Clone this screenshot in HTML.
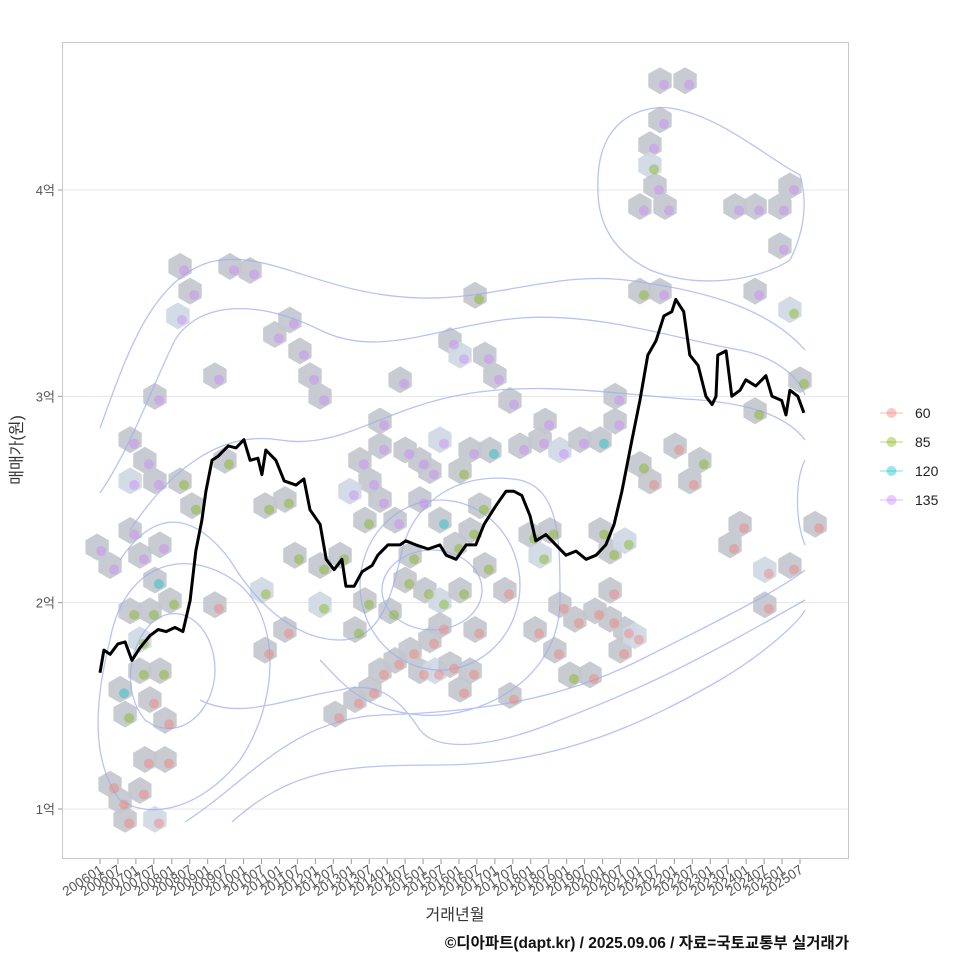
<!DOCTYPE html>
<html><head><meta charset="utf-8"><style>
body{margin:0;background:#fff;}
svg{display:block;font-family:"Liberation Sans","Noto Sans CJK KR",sans-serif;}
</style></head><body>
<svg id="chart" width="960" height="960" viewBox="0 0 960 960">
<rect x="0" y="0" width="960" height="960" fill="#fff"/>
<g id="grid"></g>
<g id="hexes"></g>
<g id="contours" fill="none" stroke="#9fb0ee" stroke-width="1.3" opacity="0.75">
<path d="M100,428 C125,360 150,280 210,262 C270,248 320,295 420,298 C500,300 560,268 640,282 C710,292 770,310 805,350"/>
<path d="M100,493 C130,450 155,380 175,340 C200,300 260,300 320,330 C380,360 440,325 520,318 C600,312 680,340 740,350 C780,358 800,380 805,395"/>
<path d="M130,530 C170,470 220,430 280,440 C340,450 380,410 460,395 C540,380 620,395 700,400 C760,405 790,420 805,440"/>
<path d="M805,460 C795,480 795,520 805,545"/>
<path d="M185,822 C250,780 290,720 380,715 C480,712 560,700 640,660 C720,620 780,590 805,570"/>
<path d="M232,822 C290,770 340,765 440,765 C560,765 650,720 720,680 C770,650 800,620 805,610"/>
<path d="M200,700 C240,720 280,700 340,690 C380,680 400,700 420,730 C440,755 500,745 560,720 C640,690 700,660 805,600"/>
<path d="M120,560 C160,500 200,520 230,560 C260,610 300,640 340,640 C380,640 390,600 400,560 C410,500 460,470 520,480 C560,490 560,540 560,600 C560,680 480,720 420,715 C360,710 340,680 320,660"/>
<ellipse cx="432" cy="590" rx="50" ry="40"/>
<ellipse cx="440" cy="585" rx="80" ry="85"/>
<path d="M120,800 C90,760 95,700 110,640 C125,560 190,545 240,585 C280,620 280,700 240,760 C200,810 150,820 120,800 Z"/>
<path d="M145,720 C120,690 130,640 155,620 C185,600 215,630 215,670 C215,710 180,745 145,720 Z"/>
<path d="M598,190 C595,120 640,105 670,108 C720,115 770,160 800,175 C810,210 800,240 790,260 C760,280 700,290 650,270 C610,250 598,220 598,190 Z"/>
</g>
<g id="points"></g>
<g id="line"></g>
<rect x="62.5" y="42.5" width="786" height="816" fill="none" stroke="#c8c8c8" stroke-width="1"/>
<g id="axes"></g>
<text x="455" y="920" font-size="16" text-anchor="middle" fill="#333">거래년월</text>
<text x="0" y="0" font-size="16" text-anchor="middle" fill="#333" transform="translate(22,450) rotate(-90)">매매가(원)</text>
<text x="849" y="948" font-size="15.5" font-weight="bold" text-anchor="end" fill="#111">©디아파트(dapt.kr) / 2025.09.06 / 자료=국토교통부 실거래가</text>
<g id="legend"></g>
</svg>
<script>
const lineYear=[2006.00,2006.11,2006.28,2006.50,2006.70,2006.89,2007.11,2007.39,2007.62,2007.84,2008.09,2008.31,2008.51,2008.67,2008.84,2008.95,2009.12,2009.29,2009.57,2009.79,2010.01,2010.18,2010.40,2010.51,2010.62,2010.90,2011.13,2011.46,2011.68,2011.85,2012.13,2012.30,2012.52,2012.74,2012.85,2013.08,2013.30,2013.58,2013.74,2014.02,2014.36,2014.52,2014.80,2015.14,2015.47,2015.64,2015.92,2016.20,2016.47,2016.70,2017.03,2017.31,2017.53,2017.75,2017.98,2018.14,2018.42,2018.70,2018.98,2019.26,2019.54,2019.82,2020.09,2020.32,2020.54,2020.82,2021.04,2021.26,2021.49,2021.71,2021.93,2022.04,2022.26,2022.43,2022.66,2022.88,2023.05,2023.16,2023.21,2023.44,2023.60,2023.83,2023.99,2024.27,2024.55,2024.72,2024.99,2025.11,2025.22,2025.44,2025.61];
const lineVal=[1.66,1.77,1.75,1.80,1.81,1.72,1.78,1.84,1.87,1.86,1.88,1.86,2.01,2.25,2.40,2.54,2.69,2.71,2.76,2.75,2.79,2.69,2.70,2.62,2.74,2.69,2.59,2.57,2.60,2.45,2.38,2.21,2.16,2.21,2.08,2.08,2.15,2.18,2.23,2.28,2.28,2.30,2.28,2.26,2.28,2.23,2.21,2.28,2.28,2.38,2.47,2.54,2.54,2.52,2.42,2.30,2.33,2.28,2.23,2.25,2.21,2.23,2.28,2.38,2.54,2.79,2.98,3.20,3.27,3.39,3.41,3.47,3.41,3.20,3.15,3.00,2.96,3.00,3.20,3.22,3.00,3.03,3.08,3.05,3.10,3.00,2.98,2.91,3.03,3.00,2.92];
const hexYear=[2005.92,2006.28,2006.84,2006.84,2006.84,2007.25,2007.53,2008.23,2008.56,2006.28,2006.56,2006.70,2007.11,2007.53,2007.25,2007.81,2007.81,2007.39,2006.70,2006.56,2007.11,2007.67,2007.11,2006.84,2007.39,2007.95,2007.53,2007.11,2007.67,2008.23,2008.51,2008.17,2007.53,2009.20,2009.48,2009.62,2010.18,2009.20,2010.60,2011.15,2010.51,2010.87,2011.29,2011.57,2011.85,2012.13,2011.15,2011.43,2012.13,2012.13,2013.10,2012.55,2013.10,2013.52,2013.80,2014.22,2014.64,2014.91,2015.33,2015.75,2016.03,2016.31,2013.80,2014.36,2013.80,2014.50,2014.91,2015.47,2015.19,2016.03,2016.31,2013.80,2014.22,2014.64,2014.50,2015.05,2015.47,2016.03,2016.72,2016.31,2015.89,2015.47,2014.91,2013.52,2013.38,2012.96,2013.24,2012.69,2013.38,2014.08,2015.47,2016.45,2015.19,2015.75,2016.03,2016.72,2017.00,2016.45,2017.42,2016.86,2017.70,2018.26,2018.40,2018.81,2019.37,2019.93,2020.35,2020.35,2017.28,2017.42,2017.98,2018.53,2018.26,2018.81,2019.23,2019.79,2020.21,2020.21,2020.62,2019.93,2020.21,2020.62,2021.04,2021.32,2021.04,2021.60,2021.60,2022.30,2021.60,2021.32,2021.32,2021.46,2021.04,2021.74,2023.69,2024.25,2024.94,2025.22,2024.94,2025.22,2025.50,2024.25,2024.25,2022.02,2022.71,2022.43,2023.83,2023.55,2024.52,2024.52,2025.22,2025.92,2019.65,2019.09,2018.67,2018.12,2020.49,2020.90,2016.58,2010.60];
const hexVal=[2.27,2.18,2.35,2.79,2.59,2.69,2.59,2.59,2.47,1.12,1.04,0.95,1.09,0.95,1.24,1.24,1.43,1.53,1.46,1.58,1.67,1.67,1.82,1.96,1.96,2.01,2.11,2.23,2.28,3.63,3.51,3.39,3.00,3.10,2.69,3.63,3.61,1.99,1.77,1.87,2.06,3.30,3.37,3.22,3.10,3.00,2.50,2.23,2.18,1.99,1.87,1.46,1.53,1.58,1.67,1.72,1.77,1.67,1.67,1.70,1.58,1.67,2.88,3.08,2.76,2.74,2.69,2.79,2.64,2.64,2.74,2.50,2.40,2.23,2.11,2.06,2.01,2.06,2.18,2.35,2.28,2.40,2.50,2.59,2.40,2.54,2.69,2.23,2.01,1.96,1.89,1.87,1.82,3.27,3.20,3.20,3.10,3.49,2.98,2.74,2.76,2.79,2.88,2.74,2.79,2.79,2.88,3.00,2.06,1.55,2.33,2.35,2.23,1.99,1.92,1.96,2.06,1.92,1.87,2.35,2.25,2.30,2.67,2.59,3.51,3.51,4.53,4.53,4.34,4.22,4.12,4.02,3.92,3.92,3.92,3.92,3.92,4.02,3.73,3.42,3.08,2.93,3.51,2.76,2.69,2.59,2.38,2.28,2.16,1.99,2.18,2.38,1.65,1.65,1.77,1.87,1.77,1.84,2.47,2.47];
const ptGroup=[135,135,135,135,135,135,135,85,85,60,60,60,60,60,60,60,60,60,85,120,85,85,85,85,85,85,120,135,135,135,135,135,135,135,85,135,135,60,60,60,85,135,135,135,135,135,85,85,85,85,85,60,60,60,60,60,60,60,60,60,60,60,135,135,135,135,135,135,135,85,135,135,135,85,85,85,85,85,85,85,85,120,135,135,85,135,135,85,85,85,60,60,60,135,135,135,135,85,135,120,135,135,135,135,135,120,135,135,60,60,85,85,85,60,60,60,60,60,60,85,85,85,85,60,85,135,135,135,135,135,85,135,135,135,135,135,135,135,135,85,85,85,135,60,85,60,60,60,60,60,60,60,60,85,60,60,60,60,85,85];
const groups=[60,85,120,135];
const groupColors=["#F8766D","#7CAE00","#00BFC4","#C77CFF"];
const yTicks=[1,2,3,4];
const yTickLabels=["1억","2억","3억","4억"];

const NS="http://www.w3.org/2000/svg";
const X0=100, X1=800, T0=2006, T1=2025.5;
function xs(t){return X0+(t-T0)*(X1-X0)/(T1-T0);}
function ys(v){return 809-(v-1)*206.33;}
function mk(tag,attrs,parent){const e=document.createElementNS(NS,tag);for(const k in attrs)e.setAttribute(k,attrs[k]);parent.appendChild(e);return e;}

const grid=document.getElementById('grid');
const axes=document.getElementById('axes');
yTicks.forEach((v,i)=>{
  const gl=mk('line',{x1:63,x2:848,y1:ys(v),y2:ys(v),stroke:'#e6e6e6','stroke-width':1},grid);
  
  
  const tk=mk('line',{x1:58,x2:62,y1:ys(v),y2:ys(v),stroke:'#999'},axes);
  
  
  const tl=mk('text',{x:55,y:ys(v)+5,'font-size':13,'text-anchor':'end',fill:'#555'},axes);
  tl.textContent=yTickLabels[i];
  
  
});
for(let k=0;k<40;k++){
  const t=T0+k*0.5;
  const yr=Math.floor(t), mo=(t-yr)>0?'07':'01';
  const x=xs(t);
  const tk=mk('line',{x1:x,x2:x,y1:859,y2:864,stroke:'#999'},axes);
  
  
  const tl=mk('text',{x:0,y:0,'font-size':13.5,'text-anchor':'end',fill:'#555',transform:`translate(${x+4},${872}) rotate(-33)`},axes);
  tl.textContent=yr+mo;
  
  
}

const hg=document.getElementById('hexes');
const R=13.5;
hexYear.forEach((t,i)=>{
  const cx=xs(t), cy=ys(hexVal[i]);
  let pts=[];
  for(let a=0;a<6;a++){const ang=Math.PI/180*(60*a-90);pts.push((cx+R*Math.cos(ang)).toFixed(1)+','+(cy+R*Math.sin(ang)).toFixed(1));}
  const h=mk('polygon',{points:pts.join(' '),fill:(i%9===4?'#cfd9e4':'#c3c7cd'),opacity:0.92},hg);
  
  
});

const pg=document.getElementById('points');
hexYear.forEach((t,i)=>{
  const gi=groups.indexOf(ptGroup[i]);
  const c=mk('circle',{cx:xs(t)+4,cy:ys(hexVal[i])+4,r:5,fill:groupColors[gi],opacity:0.4},pg);
  
  
});

const lg=document.getElementById('line');
const d=lineYear.map((t,i)=>(i?'L':'M')+xs(t).toFixed(1)+','+ys(lineVal[i]).toFixed(1)).join(' ');
const pl=mk('path',{d:d,fill:'none',stroke:'#000','stroke-width':3,'stroke-linejoin':'round'},lg);



const leg=document.getElementById('legend');
groups.forEach((g,i)=>{
  const y=413+i*29;
  const e=mk('g',{},leg);
  
  
  mk('line',{x1:880,x2:903,y1:y,y2:y,stroke:groupColors[i],'stroke-width':1.2,opacity:0.4},e);
  mk('circle',{cx:891.5,cy:y,r:5,fill:groupColors[i],opacity:0.4},e);
  const tx=mk('text',{x:915,y:y+5,'font-size':14,fill:'#222'},e);
  tx.textContent=g;
});
</script>
</body></html>
